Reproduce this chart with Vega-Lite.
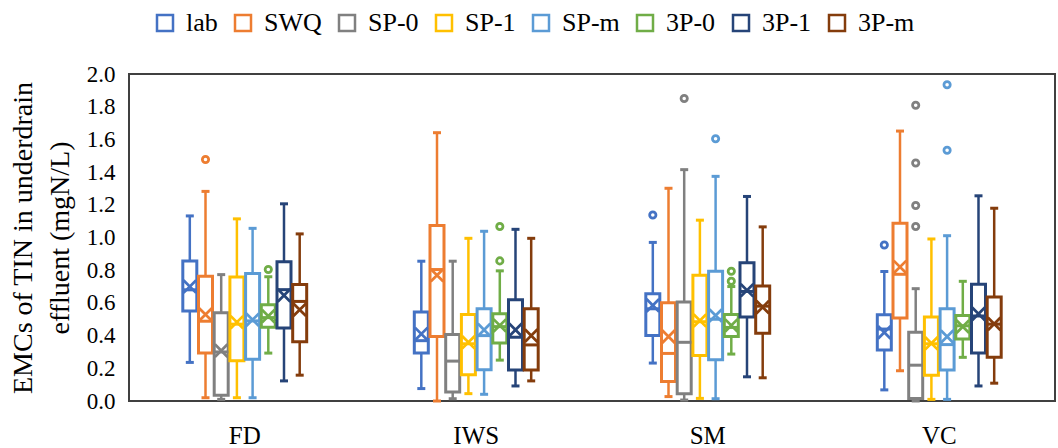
{
  "$schema": "https://vega.github.io/schema/vega-lite/v6.json",
  "width": 926,
  "height": 327,
  "autosize": "none",
  "padding": {"left": 129, "top": 74, "right": 3, "bottom": 47},
  "background": "white",
  "config": {
    "view": {"stroke": "#404040", "strokeWidth": 2},
    "font": "Liberation Serif",
    "axis": {"labelFont": "Liberation Serif", "titleFont": "Liberation Serif", "labelColor": "#000000", "titleColor": "#000000", "grid": false, "ticks": false, "domain": false, "titleFontWeight": "normal", "labelOverlap": false},
    "axisY": {"labelOverlap": false},
    "axisQuantitative": {"labelOverlap": false},
    "legend": {"labelFont": "Liberation Serif", "labelColor": "#000000"}
  },
  "datasets": {
    "box": [
      {"site": "FD", "series": "lab", "lo": 0.236, "q1": 0.55, "med": 0.68, "q3": 0.857, "hi": 1.132, "mean": 0.70},
      {"site": "FD", "series": "SWQ", "lo": 0.02, "q1": 0.293, "med": 0.488, "q3": 0.763, "hi": 1.282, "mean": 0.529},
      {"site": "FD", "series": "SP-0", "lo": 0.01, "q1": 0.035, "med": 0.30, "q3": 0.54, "hi": 0.773, "mean": 0.308},
      {"site": "FD", "series": "SP-1", "lo": 0.02, "q1": 0.246, "med": 0.47, "q3": 0.759, "hi": 1.114, "mean": 0.482},
      {"site": "FD", "series": "SP-m", "lo": 0.02, "q1": 0.256, "med": 0.49, "q3": 0.78, "hi": 1.056, "mean": 0.497},
      {"site": "FD", "series": "3P-0", "lo": 0.293, "q1": 0.451, "med": 0.51, "q3": 0.589, "hi": 0.76, "mean": 0.519},
      {"site": "FD", "series": "3P-1", "lo": 0.123, "q1": 0.447, "med": 0.681, "q3": 0.851, "hi": 1.206, "mean": 0.646},
      {"site": "FD", "series": "3P-m", "lo": 0.158, "q1": 0.363, "med": 0.609, "q3": 0.712, "hi": 1.022, "mean": 0.558},
      {"site": "IWS", "series": "lab", "lo": 0.076, "q1": 0.293, "med": 0.369, "q3": 0.544, "hi": 0.855, "mean": 0.41},
      {"site": "IWS", "series": "SWQ", "lo": 0.0, "q1": 0.394, "med": 0.804, "q3": 1.073, "hi": 1.641, "mean": 0.769},
      {"site": "IWS", "series": "SP-0", "lo": 0.014, "q1": 0.055, "med": 0.244, "q3": 0.406, "hi": 0.855, "mean": null},
      {"site": "IWS", "series": "SP-1", "lo": 0.045, "q1": 0.16, "med": 0.35, "q3": 0.529, "hi": 0.995, "mean": 0.359},
      {"site": "IWS", "series": "SP-m", "lo": 0.041, "q1": 0.191, "med": 0.40, "q3": 0.564, "hi": 1.038, "mean": 0.435},
      {"site": "IWS", "series": "3P-0", "lo": 0.25, "q1": 0.355, "med": 0.455, "q3": 0.533, "hi": 0.796, "mean": 0.462},
      {"site": "IWS", "series": "3P-1", "lo": 0.092, "q1": 0.189, "med": 0.39, "q3": 0.62, "hi": 1.05, "mean": 0.435},
      {"site": "IWS", "series": "3P-m", "lo": 0.123, "q1": 0.189, "med": 0.343, "q3": 0.564, "hi": 0.995, "mean": 0.40},
      {"site": "SM", "series": "lab", "lo": 0.232, "q1": 0.40, "med": 0.564, "q3": 0.656, "hi": 0.97, "mean": 0.585},
      {"site": "SM", "series": "SWQ", "lo": 0.027, "q1": 0.119, "med": 0.291, "q3": 0.601, "hi": 1.301, "mean": 0.394},
      {"site": "SM", "series": "SP-0", "lo": 0.006, "q1": 0.045, "med": 0.359, "q3": 0.605, "hi": 1.415, "mean": null},
      {"site": "SM", "series": "SP-1", "lo": 0.016, "q1": 0.279, "med": 0.485, "q3": 0.769, "hi": 1.106, "mean": 0.492},
      {"site": "SM", "series": "SP-m", "lo": 0.014, "q1": 0.252, "med": 0.50, "q3": 0.794, "hi": 1.374, "mean": 0.523},
      {"site": "SM", "series": "3P-0", "lo": 0.287, "q1": 0.394, "med": 0.45, "q3": 0.529, "hi": 0.70, "mean": 0.462},
      {"site": "SM", "series": "3P-1", "lo": 0.148, "q1": 0.513, "med": 0.67, "q3": 0.845, "hi": 1.251, "mean": 0.677},
      {"site": "SM", "series": "3P-m", "lo": 0.142, "q1": 0.414, "med": 0.58, "q3": 0.703, "hi": 1.065, "mean": 0.574},
      {"site": "VC", "series": "lab", "lo": 0.068, "q1": 0.312, "med": 0.44, "q3": 0.527, "hi": 0.792, "mean": 0.42},
      {"site": "VC", "series": "SWQ", "lo": 0.185, "q1": 0.507, "med": 0.775, "q3": 1.087, "hi": 1.651, "mean": 0.82},
      {"site": "VC", "series": "SP-0", "lo": 0.0, "q1": 0.016, "med": 0.219, "q3": 0.42, "hi": 0.687, "mean": null},
      {"site": "VC", "series": "SP-1", "lo": 0.01, "q1": 0.158, "med": 0.35, "q3": 0.513, "hi": 0.991, "mean": 0.353},
      {"site": "VC", "series": "SP-m", "lo": 0.01, "q1": 0.189, "med": 0.345, "q3": 0.564, "hi": 1.011, "mean": 0.394},
      {"site": "VC", "series": "3P-0", "lo": 0.267, "q1": 0.379, "med": 0.46, "q3": 0.523, "hi": 0.732, "mean": 0.455},
      {"site": "VC", "series": "3P-1", "lo": 0.092, "q1": 0.293, "med": 0.52, "q3": 0.714, "hi": 1.255, "mean": 0.533},
      {"site": "VC", "series": "3P-m", "lo": 0.109, "q1": 0.267, "med": 0.47, "q3": 0.636, "hi": 1.179, "mean": 0.472}
    ],
    "out": [
      {"site": "FD", "series": "SWQ", "value": 1.477},
      {"site": "FD", "series": "3P-0", "value": 0.804},
      {"site": "IWS", "series": "3P-0", "value": 0.857},
      {"site": "IWS", "series": "3P-0", "value": 1.067},
      {"site": "SM", "series": "lab", "value": 1.138},
      {"site": "SM", "series": "SP-0", "value": 1.85},
      {"site": "SM", "series": "SP-m", "value": 1.604},
      {"site": "SM", "series": "3P-0", "value": 0.732},
      {"site": "SM", "series": "3P-0", "value": 0.794},
      {"site": "VC", "series": "lab", "value": 0.954},
      {"site": "VC", "series": "SP-0", "value": 1.067},
      {"site": "VC", "series": "SP-0", "value": 1.196},
      {"site": "VC", "series": "SP-0", "value": 1.456},
      {"site": "VC", "series": "SP-0", "value": 1.809},
      {"site": "VC", "series": "SP-m", "value": 1.534},
      {"site": "VC", "series": "SP-m", "value": 1.934}
    ]
  },
  "encoding": {
    "x": {"field": "site", "type": "nominal", "scale": {"domain": ["FD", "IWS", "SM", "VC"], "paddingInner": 0.4575, "paddingOuter": 0.22875},
      "axis": {"title": null, "labelAngle": 0, "labelFontSize": 25, "labelPadding": 22}},
    "xOffset": {"field": "series", "type": "nominal", "scale": {"domain": ["lab", "SWQ", "SP-0", "SP-1", "SP-m", "3P-0", "3P-1", "3P-m"], "paddingInner": 0, "paddingOuter": 0}},
    "stroke": {"field": "series", "type": "nominal",
      "scale": {"domain": ["lab", "SWQ", "SP-0", "SP-1", "SP-m", "3P-0", "3P-1", "3P-m"], "range": ["#4472C4", "#ED7D31", "#808080", "#FFC000", "#5B9BD5", "#70AD47", "#264478", "#843C0C"]},
      "legend": {"title": null, "orient": "none", "legendX": 23, "legendY": -64, "direction": "horizontal", "columns": 8, "symbolType": "square", "symbolSize": 256, "symbolStrokeWidth": 2.5, "symbolFillColor": "white", "labelFontSize": 26, "labelOffset": 8, "columnPadding": 12}}
  },
  "layer": [
    {"data": {"name": "box"}, "mark": {"type": "bar", "width": 14, "fill": "white", "strokeWidth": 3},
      "encoding": {"y": {"field": "q1", "type": "quantitative", "scale": {"domain": [0, 2], "nice": false},
        "axis": {"values": [0, 0.2, 0.4, 0.6, 0.8, 1.0, 1.2, 1.4, 1.6, 1.8, 2.0], "tickCount": 11, "format": ".1f", "labelFontSize": 23, "labelPadding": 14, "labelOverlap": false, "labelSeparation": -30, "title": ["EMCs of TIN in underdrain", "effluent (mgN/L)"], "titleFontSize": 28, "titlePadding": 12, "titleLineHeight": 37}},
        "y2": {"field": "q3"}}},
    {"data": {"name": "box"}, "mark": {"type": "rule", "strokeWidth": 2.5},
      "encoding": {"y": {"field": "lo", "type": "quantitative", "axis": {"values": [0, 0.2, 0.4, 0.6, 0.8, 1.0, 1.2, 1.4, 1.6, 1.8, 2.0], "labelOverlap": false}}, "y2": {"field": "q1"}}},
    {"data": {"name": "box"}, "mark": {"type": "rule", "strokeWidth": 2.5},
      "encoding": {"y": {"field": "q3", "type": "quantitative", "axis": {"values": [0, 0.2, 0.4, 0.6, 0.8, 1.0, 1.2, 1.4, 1.6, 1.8, 2.0], "labelOverlap": false}}, "y2": {"field": "hi"}}},
    {"data": {"name": "box"}, "mark": {"type": "point", "shape": "M-1,0L1,0", "filled": false, "size": 64, "strokeWidth": 3, "opacity": 1},
      "encoding": {"y": {"field": "lo", "type": "quantitative", "axis": {"values": [0, 0.2, 0.4, 0.6, 0.8, 1.0, 1.2, 1.4, 1.6, 1.8, 2.0], "labelOverlap": false}}}},
    {"data": {"name": "box"}, "mark": {"type": "point", "shape": "M-1,0L1,0", "filled": false, "size": 64, "strokeWidth": 3, "opacity": 1},
      "encoding": {"y": {"field": "hi", "type": "quantitative", "axis": {"values": [0, 0.2, 0.4, 0.6, 0.8, 1.0, 1.2, 1.4, 1.6, 1.8, 2.0], "labelOverlap": false}}}},
    {"data": {"name": "box"}, "mark": {"type": "point", "shape": "M-1,0L1,0", "filled": false, "size": 210, "strokeWidth": 3, "opacity": 1},
      "encoding": {"y": {"field": "med", "type": "quantitative", "axis": {"values": [0, 0.2, 0.4, 0.6, 0.8, 1.0, 1.2, 1.4, 1.6, 1.8, 2.0], "labelOverlap": false}}}},
    {"data": {"name": "box"}, "transform": [{"filter": "datum.mean != null"}],
      "mark": {"type": "point", "shape": "M-1,-1L1,1M-1,1L1,-1", "filled": false, "size": 160, "strokeWidth": 2.75, "opacity": 1},
      "encoding": {"y": {"field": "mean", "type": "quantitative", "axis": {"values": [0, 0.2, 0.4, 0.6, 0.8, 1.0, 1.2, 1.4, 1.6, 1.8, 2.0], "labelOverlap": false}}}},
    {"data": {"name": "out"}, "mark": {"type": "point", "shape": "circle", "filled": false, "size": 40, "strokeWidth": 2.75, "opacity": 1},
      "encoding": {"y": {"field": "value", "type": "quantitative", "axis": {"values": [0, 0.2, 0.4, 0.6, 0.8, 1.0, 1.2, 1.4, 1.6, 1.8, 2.0], "labelOverlap": false}}}}
  ]
}
